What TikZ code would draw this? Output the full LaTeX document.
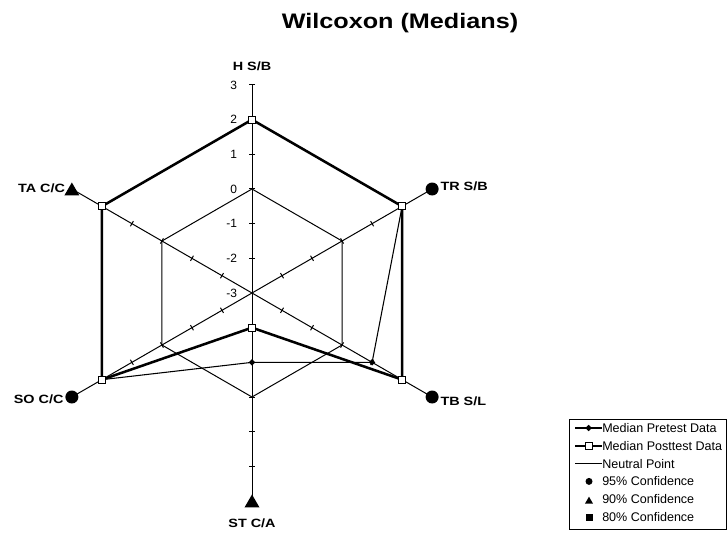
\documentclass[tikz,border=0pt]{standalone}
\usepackage{fontspec}
\usepackage{graphicx}
\setmainfont{Liberation Sans}
\usetikzlibrary{shapes.geometric,positioning}
\newcommand{\widebold}[1]{\scalebox{1.2}[1]{#1}}
\begin{document}
\begin{tikzpicture}[x=0.75pt,y=0.75pt,
    thinline/.style={draw=black,line width=0.75pt},
    preline/.style={draw=black,line width=0.8pt},
    postline/.style={draw=black,line width=1.9pt},
    premark/.style={diamond,fill=black,inner sep=0pt,minimum size=5pt},
    postmark/.style={rectangle,draw=black,fill=white,line width=0.6pt,inner sep=0pt,minimum size=5.25pt},
    dotmark/.style={circle,fill=black,inner sep=0pt,minimum size=#1},dotmark/.default=9.75pt,
    trimark/.style={regular polygon,regular polygon sides=3,fill=black,inner sep=0pt,minimum size=#1,yshift=-1.6pt},trimark/.default=13pt,
    sqmark/.style={rectangle,fill=black,inner sep=0pt,minimum size=#1},sqmark/.default=5.25pt,
    axislabel/.style={font=\bfseries\fontsize{9}{11}\selectfont,inner sep=1pt},
    scalelabel/.style={font=\fontsize{9}{11}\selectfont,anchor=east,inner sep=0pt},
    legendtext/.style={font=\fontsize{9.4}{11}\selectfont,anchor=west,inner sep=0pt}]

  \useasboundingbox (-252,-240) rectangle (476,293);
  \node[font=\bfseries\fontsize{15.75}{19}\selectfont,anchor=base] (title) at (148,264.7) {\widebold{Wilcoxon (Medians)}};

  \coordinate (center) at (0,0);
  \foreach \a/\n/\pre/\post in {90/HSB/2/2,30/TRSB/2/2,-30/TBSL/1/2,-90/STCA/-1/-2,210/SOCC/2/2,150/TACC/2/2}{
    \coordinate (end\n) at (\a:208);
    \coordinate (zero\n) at (\a:104);
    \coordinate (pre\n) at (\a:{(\pre+3)*34.67});
    \coordinate (post\n) at (\a:{(\post+3)*34.67});
    \draw[thinline] (center) -- (end\n);
    \foreach \k in {1,...,6}
      \draw[thinline,rotate=\a] (\k*34.67,-3) -- (\k*34.67,3);
  }
  \foreach \v in {-3,...,3}
    \node[scalelabel] (num\v) at (-14.7,{(\v+3)*34.67}) {\v};

  \draw[thinline] (zeroHSB) -- (zeroTRSB) -- (zeroTBSL) -- (zeroSTCA) -- (zeroSOCC) -- (zeroTACC) -- cycle;
  \draw[preline] (preHSB) -- (preTRSB) -- (preTBSL) -- (preSTCA) -- (preSOCC) -- (preTACC) -- cycle;
  \draw[postline] (postHSB) -- (postTRSB) -- (postTBSL) -- (postSTCA) -- (postSOCC) -- (postTACC) -- cycle;
  \foreach \n in {HSB,TRSB,TBSL,STCA,SOCC,TACC}
    \node[premark] (dpre\n) at (pre\n) {};
  \foreach \n in {HSB,TRSB,TBSL,STCA,SOCC,TACC}
    \node[postmark] (dpost\n) at (post\n) {};

  \node[dotmark] (markTRSB) at (endTRSB) {};
  \node[dotmark] (markTBSL) at (endTBSL) {};
  \node[trimark] (markSTCA) at (endSTCA) {};
  \node[dotmark] (markSOCC) at (endSOCC) {};
  \node[trimark] (markTACC) at (endTACC) {};

  \node[axislabel,above=9.5pt of endHSB] (labHSB) {\widebold{H S/B}};
  \node[axislabel,right=0pt of markTRSB,yshift=2pt] (labTRSB) {\widebold{TR S/B}};
  \node[axislabel,right=0pt of markTBSL,yshift=-3pt] (labTBSL) {\widebold{TB S/L}};
  \node[axislabel,below=7pt of markSTCA] (labSTCA) {\widebold{ST C/A}};
  \node[axislabel,left=0pt of markSOCC,yshift=-2pt] (labSOCC) {\widebold{SO C/C}};
  \node[axislabel,left=0pt of markTACC,yshift=2pt] (labTACC) {\widebold{TA C/C}};

  \draw[thinline,line width=0.6pt] (317,-126) rectangle (474,-236);
  \foreach \i/\txt in {1/Median Pretest Data,2/Median Posttest Data,3/Neutral Point,4/95\% Confidence,5/90\% Confidence,6/80\% Confidence}
    \node[legendtext] (leg\i) at (350,{-135-17.8*(\i-1)}) {\txt};
  \draw[preline] ([xshift=-20pt]leg1.west) -- (leg1.west);
  \node[premark] (legpre) at ([xshift=-10pt]leg1.west) {};
  \draw[postline] ([xshift=-20pt]leg2.west) -- (leg2.west);
  \node[postmark] (legpost) at ([xshift=-10pt]leg2.west) {};
  \draw[thinline] ([xshift=-20pt]leg3.west) -- (leg3.west);
  \node[dotmark=5.25pt] (legdot) at ([xshift=-9.75pt]leg4.west) {};
  \node[trimark=7pt] (legtri) at ([xshift=-9.75pt]leg5.west) {};
  \node[sqmark] (legsq) at ([xshift=-9.75pt]leg6.west) {};
\end{tikzpicture}
\end{document}
